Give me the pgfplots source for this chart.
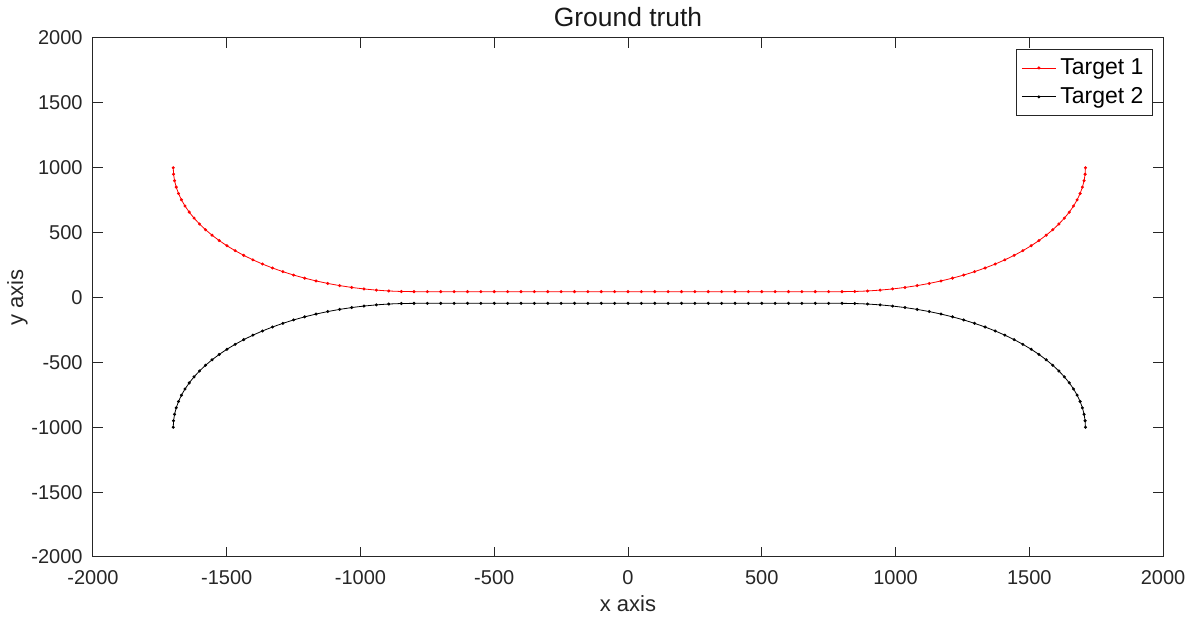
\documentclass[border=0pt]{standalone}
\usepackage{pgfplots}
\usepackage{pgfplotstable}
\pgfplotsset{compat=1.18}
\usepackage{fontspec}
\setmainfont{Liberation Sans}
\definecolor{axgray}{RGB}{38,38,38}
\definecolor{mred}{RGB}{255,0,0}

\pgfplotstableread{
x r k
-1700 1000 -1000
-1698.8 950.0 -950.0
-1695.1 900.2 -900.2
-1688.9 850.6 -850.6
-1680.3 801.4 -801.4
-1669.3 752.8 -752.8
-1656.0 704.9 -704.9
-1640.2 657.8 -657.8
-1622.2 611.6 -611.6
-1601.9 566.4 -566.4
-1579.4 522.5 -522.5
-1554.8 479.9 -479.9
-1528.1 438.7 -438.7
-1499.4 399.0 -399.0
-1468.8 361.0 -361.0
-1436.4 324.7 -324.7
-1402.2 290.3 -290.3
-1366.4 257.8 -257.8
-1329.0 227.4 -227.4
-1290.2 199.1 -199.1
-1250.0 172.9 -172.9
-1208.6 149.1 -149.1
-1166.1 127.6 -127.6
-1122.5 108.4 -108.4
-1078.1 91.7 -91.7
-1032.9 77.5 -77.5
-987.1 65.9 -65.9
-940.8 56.8 -56.8
-894.1 50.2 -50.2
-847.1 46.3 -46.3
-800 45 -45
-750 45 -45
-700 45 -45
-650 45 -45
-600 45 -45
-550 45 -45
-500 45 -45
-450 45 -45
-400 45 -45
-350 45 -45
-300 45 -45
-250 45 -45
-200 45 -45
-150 45 -45
-100 45 -45
-50 45 -45
0 45 -45
50 45 -45
100 45 -45
150 45 -45
200 45 -45
250 45 -45
300 45 -45
350 45 -45
400 45 -45
450 45 -45
500 45 -45
550 45 -45
600 45 -45
650 45 -45
700 45 -45
750 45 -45
800 45 -45
847.6 46.3 -46.3
895.1 50.2 -50.2
942.4 56.8 -56.8
989.2 65.9 -65.9
1035.5 77.5 -77.5
1081.2 91.7 -91.7
1126.1 108.4 -108.4
1170.1 127.6 -127.6
1213.1 149.1 -149.1
1255.0 172.9 -172.9
1295.6 199.1 -199.1
1334.9 227.4 -227.4
1372.7 257.8 -257.8
1408.9 290.3 -290.3
1443.5 324.7 -324.7
1476.3 361.0 -361.0
1507.2 399.0 -399.0
1536.2 438.7 -438.7
1563.2 479.9 -479.9
1588.1 522.5 -522.5
1610.8 566.4 -566.4
1631.3 611.6 -611.6
1649.6 657.8 -657.8
1665.5 704.9 -704.9
1679.0 752.8 -752.8
1690.1 801.4 -801.4
1698.8 850.6 -850.6
1705.0 900.2 -900.2
1708.8 950.0 -950.0
1710 1000 -1000
}\traj

\begin{document}
\begin{tikzpicture}
\path[use as bounding box] (-46.5pt,-31.5pt) rectangle (552.5pt,278.5pt);
\begin{axis}[
  at={(0,0)}, anchor=south west,
  scale only axis, width=535pt, height=259.5pt,
  xmin=-2000, xmax=2000, ymin=-2000, ymax=2000,
  xtick={-2000,-1500,...,2000},
  ytick={-2000,-1500,...,2000},
  tick align=inside,
  major tick length=5pt,
  axis line style={axgray, line width=0.5pt},
  every tick/.style={axgray, line width=0.5pt},
  /pgf/number format/assume math mode=true,
  /pgf/number format/1000 sep={},
  ticklabel style={font=\fontsize{10}{12}\selectfont, text=axgray},
  xticklabel style={anchor=north, inner sep=0pt, yshift=-6.8pt},
  yticklabel style={anchor=east, inner sep=0pt, xshift=-5pt},
  xlabel={x axis}, ylabel={y axis},
  xlabel style={at={(axis description cs:0.5,-0.105)}, anchor=base, font=\fontsize{11}{13}\selectfont, text=axgray},
  ylabel style={at={(axis description cs:-0.0654,0.5)}, anchor=base, font=\fontsize{11}{13}\selectfont, text=axgray},
  legend style={at={(axis description cs:1,1)}, anchor=north east, xshift=-5pt, yshift=-5.5pt,
    draw=axgray, line width=0.5pt, font=\fontsize{11.5}{13}\selectfont, text=black,
    inner xsep=2.5pt, inner ysep=2.5pt, row sep=1pt},
  legend cell align=left,
]
\addplot[mred, line width=0.4pt, mark=*, mark size=0.55pt] table[x=x, y=r]{\traj};
\addlegendentry{Target 1}
\addplot[black, line width=0.4pt, mark=*, mark size=0.55pt] table[x=x, y=k]{\traj};
\addlegendentry{Target 2}
\end{axis}
\node[anchor=base, inner sep=0pt, font=\fontsize{13.2}{15}\selectfont, text=black!90] at (267.5pt,265.3pt) {Ground truth};
\end{tikzpicture}
\end{document}
